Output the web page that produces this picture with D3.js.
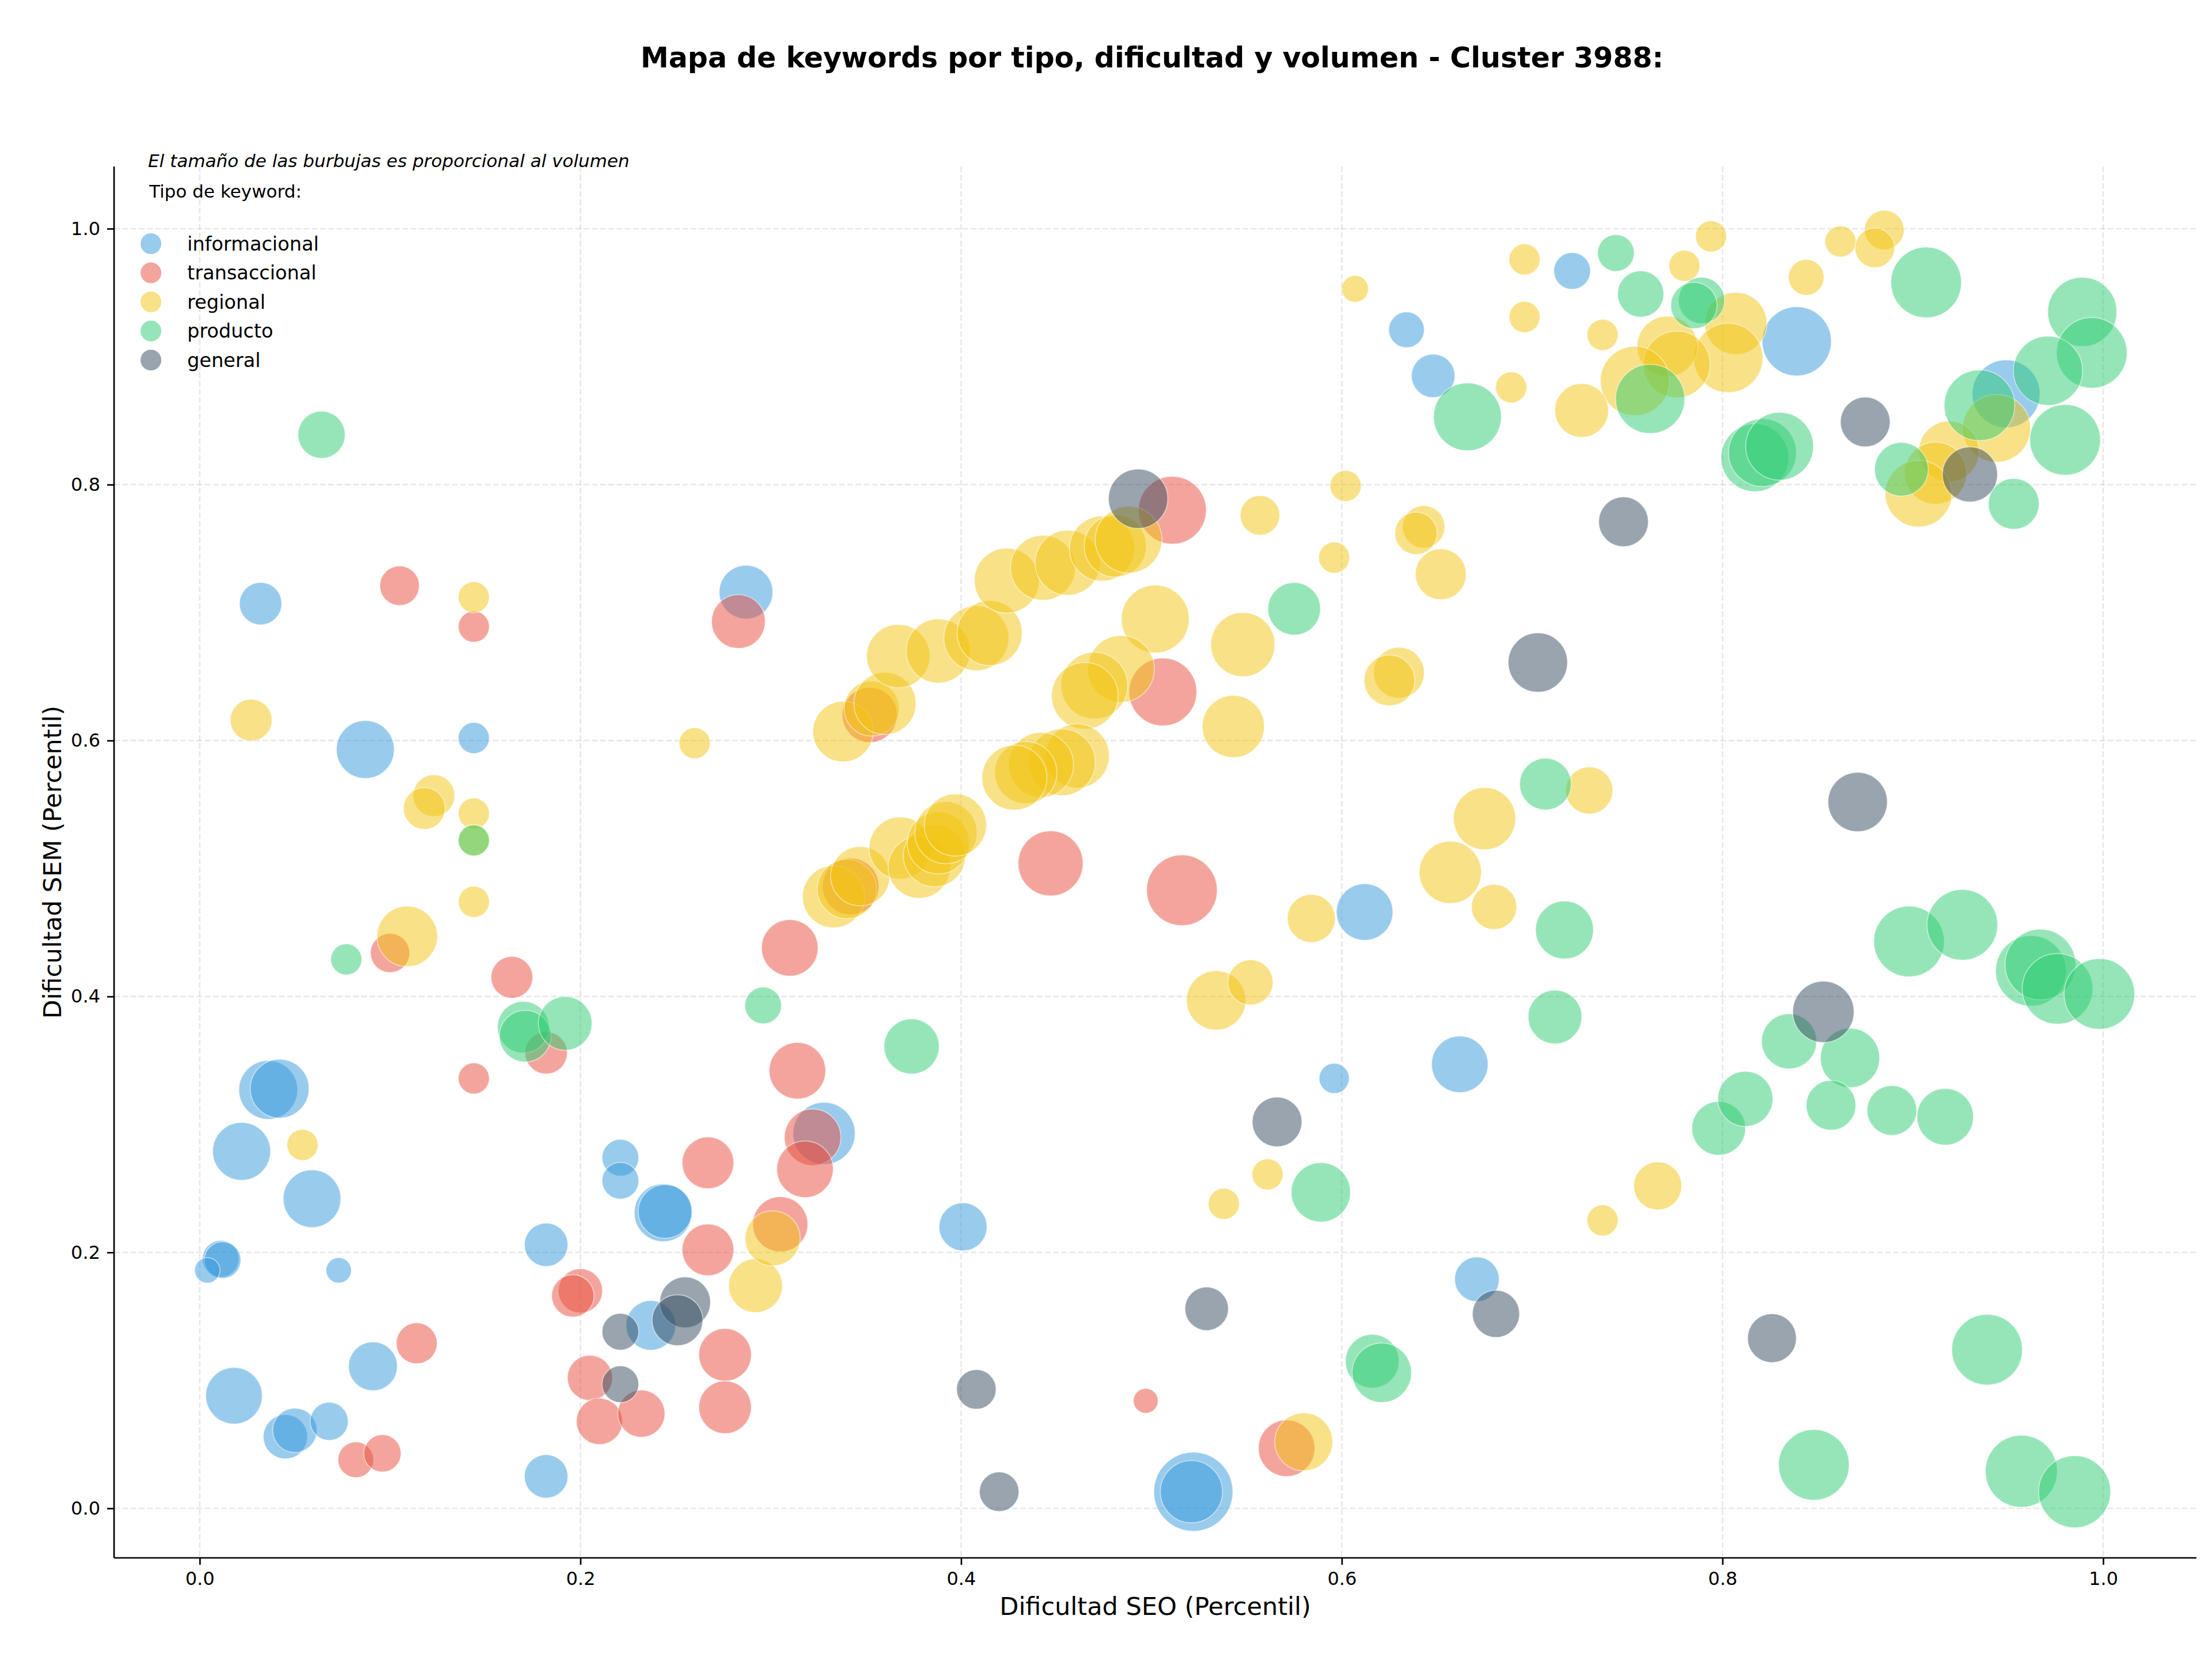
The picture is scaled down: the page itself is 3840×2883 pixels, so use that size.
<!DOCTYPE html>
<html>
<head>
<meta charset="utf-8">
<script src="https://cdn.jsdelivr.net/npm/d3@7"></script>
<style>
  body { margin: 0; background: #fff; }
  text { font-family: "DejaVu Sans", sans-serif; }
</style>
</head>
<body>
<div id="chart"></div>
<script>
// Tipos de keyword (orden de dibujo y de leyenda)
const tipos = ["informacional", "transaccional", "regional", "producto", "general"];

// Cada punto: [dificultad SEO, dificultad SEM, volumen]
const informacional = [
  [0.032, 0.707, 225], [0.087, 0.593, 420], [0.144, 0.602, 121], [0.287, 0.716, 361],
  [0.036, 0.327, 433], [0.042, 0.328, 433], [0.022, 0.279, 420], [0.059, 0.242, 416],
  [0.011, 0.195, 169], [0.012, 0.194, 169], [0.004, 0.186, 81], [0.073, 0.186, 81],
  [0.182, 0.206, 237], [0.221, 0.274, 169], [0.221, 0.256, 169], [0.2435, 0.231, 420],
  [0.2445, 0.232, 361], [0.237, 0.143, 310], [0.018, 0.088, 400], [0.091, 0.111, 299],
  [0.045, 0.056, 246], [0.050, 0.061, 246], [0.068, 0.068, 182], [0.182, 0.025, 237],
  [0.328, 0.293, 484], [0.401, 0.220, 289], [0.612, 0.466, 400], [0.596, 0.336, 114],
  [0.662, 0.347, 400], [0.671, 0.179, 250], [0.522, 0.013, 784], [0.521, 0.013, 484],
  [0.634, 0.921, 159], [0.648, 0.885, 237], [0.721, 0.967, 169], [0.839, 0.912, 600],
  [0.949, 0.871, 576]
];

const transaccional = [
  [0.105, 0.721, 196], [0.144, 0.689, 121], [0.283, 0.693, 361], [0.100, 0.434, 193],
  [0.164, 0.415, 219], [0.182, 0.356, 225], [0.144, 0.336, 121], [0.310, 0.438, 400],
  [0.314, 0.342, 400], [0.322, 0.290, 400], [0.318, 0.265, 400], [0.267, 0.270, 335],
  [0.267, 0.202, 335], [0.305, 0.222, 380], [0.200, 0.170, 246], [0.196, 0.166, 225],
  [0.276, 0.120, 346], [0.276, 0.079, 346], [0.205, 0.102, 256], [0.210, 0.068, 269],
  [0.232, 0.074, 279], [0.114, 0.129, 210], [0.082, 0.038, 159], [0.096, 0.043, 174],
  [0.447, 0.504, 529], [0.516, 0.483, 625], [0.497, 0.084, 77], [0.571, 0.047, 400],
  [0.511, 0.780, 576], [0.506, 0.638, 576], [0.352, 0.620, 380], [0.342, 0.486, 400]
];

const regional = [
  [0.144, 0.712, 121], [0.027, 0.616, 219], [0.260, 0.598, 121], [0.123, 0.557, 219],
  [0.118, 0.547, 219], [0.144, 0.543, 121], [0.144, 0.522, 121], [0.144, 0.474, 121],
  [0.109, 0.447, 458], [0.054, 0.284, 121], [0.292, 0.174, 361], [0.301, 0.211, 380],
  [0.584, 0.461, 289], [0.657, 0.497, 484], [0.680, 0.470, 256], [0.534, 0.397, 441],
  [0.552, 0.411, 256], [0.561, 0.261, 121], [0.538, 0.238, 121], [0.580, 0.052, 420],
  [0.766, 0.252, 289], [0.737, 0.225, 121], [0.607, 0.953, 90], [0.557, 0.776, 196],
  [0.602, 0.799, 121], [0.596, 0.743, 121], [0.643, 0.767, 225], [0.639, 0.762, 225],
  [0.652, 0.730, 324], [0.502, 0.695, 576], [0.548, 0.675, 515], [0.543, 0.611, 484],
  [0.630, 0.653, 324], [0.625, 0.647, 324], [0.338, 0.607, 458], [0.353, 0.625, 380],
  [0.360, 0.629, 484], [0.367, 0.666, 502], [0.388, 0.670, 515], [0.408, 0.680, 529],
  [0.415, 0.684, 529], [0.424, 0.725, 529], [0.443, 0.735, 529], [0.456, 0.739, 529],
  [0.474, 0.750, 529], [0.481, 0.752, 484], [0.488, 0.757, 557], [0.484, 0.656, 557],
  [0.470, 0.643, 557], [0.465, 0.635, 557], [0.461, 0.588, 515], [0.453, 0.583, 557],
  [0.442, 0.581, 529], [0.434, 0.575, 484], [0.428, 0.571, 529], [0.333, 0.478, 484],
  [0.340, 0.484, 441], [0.347, 0.494, 441], [0.368, 0.516, 484], [0.378, 0.501, 484],
  [0.386, 0.510, 484], [0.388, 0.520, 484], [0.392, 0.528, 484], [0.397, 0.534, 484],
  [0.696, 0.976, 121], [0.794, 0.994, 121], [0.780, 0.971, 121], [0.696, 0.931, 121],
  [0.737, 0.917, 121], [0.807, 0.926, 484], [0.803, 0.899, 600], [0.771, 0.908, 458],
  [0.776, 0.894, 557], [0.754, 0.881, 600], [0.726, 0.858, 361], [0.689, 0.876, 121],
  [0.844, 0.962, 159], [0.862, 0.990, 121], [0.885, 0.999, 196], [0.880, 0.985, 196],
  [0.944, 0.844, 576], [0.919, 0.826, 458], [0.912, 0.809, 484], [0.903, 0.793, 557],
  [0.675, 0.539, 484], [0.730, 0.561, 279]
];

const producto = [
  [0.064, 0.839, 279], [0.144, 0.522, 121], [0.077, 0.429, 121], [0.170, 0.376, 335],
  [0.171, 0.369, 335], [0.192, 0.379, 361], [0.296, 0.393, 169], [0.374, 0.361, 380],
  [0.589, 0.247, 441], [0.616, 0.115, 361], [0.621, 0.106, 441], [0.717, 0.452, 420],
  [0.712, 0.384, 361], [0.798, 0.297, 361], [0.812, 0.320, 380], [0.835, 0.365, 380],
  [0.867, 0.352, 441], [0.857, 0.315, 310], [0.889, 0.311, 310], [0.917, 0.306, 400],
  [0.898, 0.443, 625], [0.926, 0.456, 625], [0.962, 0.420, 625], [0.967, 0.425, 625],
  [0.976, 0.406, 625], [0.998, 0.402, 625], [0.939, 0.124, 625], [0.848, 0.034, 625],
  [0.957, 0.029, 650], [0.985, 0.013, 650], [0.575, 0.703, 346], [0.666, 0.853, 576],
  [0.744, 0.981, 169], [0.757, 0.949, 269], [0.789, 0.944, 269], [0.785, 0.940, 269],
  [0.762, 0.867, 600], [0.907, 0.958, 625], [0.817, 0.821, 576], [0.821, 0.825, 576],
  [0.830, 0.830, 576], [0.989, 0.935, 600], [0.994, 0.903, 625], [0.971, 0.889, 600],
  [0.935, 0.862, 625], [0.980, 0.835, 625], [0.894, 0.812, 361], [0.953, 0.785, 324],
  [0.707, 0.566, 335]
];

const general = [
  [0.221, 0.138, 169], [0.255, 0.161, 324], [0.251, 0.147, 324], [0.221, 0.097, 169],
  [0.566, 0.302, 310], [0.529, 0.156, 237], [0.681, 0.152, 279], [0.408, 0.093, 196],
  [0.420, 0.013, 196], [0.853, 0.388, 471], [0.826, 0.133, 299], [0.493, 0.789, 441],
  [0.875, 0.849, 310], [0.748, 0.771, 310], [0.703, 0.661, 441], [0.871, 0.552, 441],
  [0.930, 0.808, 380]
];

const series = { informacional, transaccional, regional, producto, general };

// Etiquetas de los ejes
const xTicks = [0.0, 0.2, 0.4, 0.6, 0.8, 1.0];
const yTicks = [0.0, 0.2, 0.4, 0.6, 0.8, 1.0];

const colors = {
  informacional: "#3498db",
  transaccional: "#e74c3c",
  regional: "#f1c40f",
  producto: "#2ecc71",
  general: "#34495e"
};

const W = 3840, H = 2883;
const plot = { left: 198, right: 3813, top: 289, bottom: 2704 };

const svg = d3.select("#chart")
  .append("svg")
  .attr("width", W)
  .attr("height", H);

// Escalas
const xScale = d3.scaleLinear()
  .domain([-0.045, 1.049])
  .range([plot.left, plot.right]);

const yScale = d3.scaleLinear()
  .domain([-0.0387, 1.0486])
  .range([plot.bottom, plot.top]);

// Tamaño de burbuja: area proporcional al volumen
const rScale = d3.scaleSqrt()
  .domain([0, 900])
  .range([0, 73.5]);

// Rejilla discontinua
const grid = svg.append("g");
grid.selectAll(".gx")
  .data(xTicks)
  .enter()
  .append("line")
  .attr("x1", d => xScale(d)).attr("x2", d => xScale(d))
  .attr("y1", plot.top).attr("y2", plot.bottom)
  .attr("stroke", "#b0b0b0").attr("stroke-opacity", 0.3)
  .attr("stroke-width", 2.6).attr("stroke-dasharray", "10,4.3");
grid.selectAll(".gy")
  .data(yTicks)
  .enter()
  .append("line")
  .attr("y1", d => yScale(d)).attr("y2", d => yScale(d))
  .attr("x1", plot.left).attr("x2", plot.right)
  .attr("stroke", "#b0b0b0").attr("stroke-opacity", 0.3)
  .attr("stroke-width", 2.6).attr("stroke-dasharray", "10,4.3");

// Burbujas, un grupo por tipo
tipos.forEach(tipo => {
  svg.append("g")
    .selectAll("circle")
    .data(series[tipo])
    .enter()
    .append("circle")
    .attr("cx", d => xScale(d[0]))
    .attr("cy", d => yScale(d[1]))
    .attr("r", d => rScale(d[2]))
    .attr("fill", colors[tipo])
    .attr("fill-opacity", 0.5)
    .attr("stroke", "#fff")
    .attr("stroke-opacity", 0.5)
    .attr("stroke-width", 1.7);
});

// Ejes (solo izquierda y abajo)
const xAxis = d3.axisBottom(xScale)
  .tickValues(xTicks)
  .tickFormat(d3.format(".1f"))
  .tickSizeInner(12).tickSizeOuter(0).tickPadding(12);

const yAxis = d3.axisLeft(yScale)
  .tickValues(yTicks)
  .tickFormat(d3.format(".1f"))
  .tickSizeInner(12).tickSizeOuter(0).tickPadding(12);

const gx = svg.append("g")
  .attr("transform", `translate(0,${plot.bottom})`)
  .call(xAxis);
gx.select(".domain").attr("d", `M${plot.left},0H${plot.right}`);

const gy = svg.append("g")
  .attr("transform", `translate(${plot.left},0)`)
  .call(yAxis);
gy.select(".domain").attr("d", `M0,${plot.top}V${plot.bottom}`);

[gx, gy].forEach(g => {
  g.select(".domain").attr("stroke", "#000").attr("stroke-width", 2.7);
  g.selectAll(".tick line").attr("stroke", "#000").attr("stroke-width", 2.7);
  g.selectAll(".tick text")
    .attr("fill", "#000")
    .style("font-family", "DejaVu Sans")
    .style("font-size", "32px");
});

// Titulo
svg.append("text")
  .attr("x", 2000)
  .attr("y", 117)
  .attr("text-anchor", "middle")
  .style("font-size", "49px")
  .style("font-weight", "bold")
  .text("Mapa de keywords por tipo, dificultad y volumen - Cluster 3988:");

// Etiquetas de ejes
svg.append("text")
  .attr("x", (plot.left + plot.right) / 2)
  .attr("y", 2803)
  .attr("text-anchor", "middle")
  .style("font-size", "43px")
  .text("Dificultad SEO (Percentil)");

svg.append("text")
  .attr("transform", `translate(106,${(plot.top + plot.bottom) / 2}) rotate(-90)`)
  .attr("text-anchor", "middle")
  .style("font-size", "43px")
  .text("Dificultad SEM (Percentil)");

// Nota sobre el tamaño
svg.append("text")
  .attr("x", 257)
  .attr("y", 290)
  .style("font-size", "31px")
  .style("font-style", "italic")
  .text("El tamaño de las burbujas es proporcional al volumen");

// Leyenda
const legend = svg.append("g");

legend.append("text")
  .attr("x", 259)
  .attr("y", 343)
  .style("font-size", "31px")
  .text("Tipo de keyword:");

tipos.forEach((tipo, i) => {
  const cy = 423 + i * 50.5;
  legend.append("circle")
    .attr("cx", 262)
    .attr("cy", cy)
    .attr("r", 18)
    .attr("fill", colors[tipo])
    .attr("fill-opacity", 0.5);
  legend.append("text")
    .attr("x", 325)
    .attr("y", cy)
    .attr("dominant-baseline", "central")
    .style("font-size", "33.5px")
    .text(tipo);
});
</script>
</body>
</html>
